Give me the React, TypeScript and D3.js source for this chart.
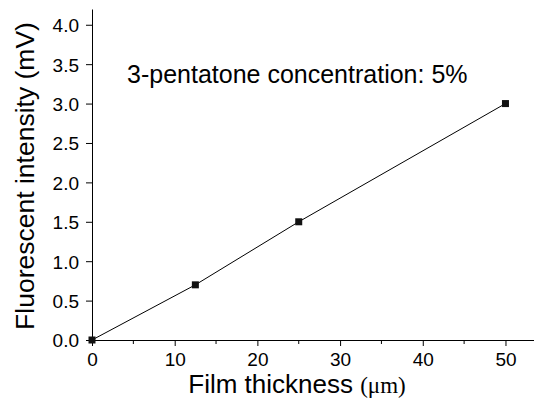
import React, { useEffect, useRef } from 'react';
import * as d3 from 'd3';

const thickness = [0, 12.5, 25, 50];
const intensity = [0, 0.7, 1.5, 3.0];
const xTicks = [0, 10, 20, 30, 40, 50];
const xMinor = [5, 15, 25, 35, 45];
const yTicks = [0, 0.5, 1, 1.5, 2, 2.5, 3, 3.5, 4];

const W = 534;
const H = 398;
const margin = { left: 92, right: 0, top: 9, bottom: 58 };

const App: React.FC = () => {
  const svgRef = useRef<SVGSVGElement | null>(null);

  useEffect(() => {
    const svg = d3.select(svgRef.current);
    svg.selectAll('*').remove();

    const x = d3.scaleLinear().domain([0, 53.45]).range([margin.left, W - margin.right]);
    const y = d3.scaleLinear().domain([0, 4.2]).range([H - margin.bottom, margin.top]);
    const font = 'Arial, "Liberation Sans", sans-serif';

    // x axis
    const xg = svg.append('g').attr('transform', `translate(0,${y(0)})`);
    xg.call(d3.axisBottom(x).tickValues(xTicks).tickSize(6).tickPadding(7).tickSizeOuter(0).tickFormat(d3.format('d')));
    xg.append('g').selectAll('line').data(xMinor).join('line')
      .attr('x1', d => x(d)).attr('x2', d => x(d)).attr('y1', 0).attr('y2', 4)
      .attr('stroke', '#000');
    xg.selectAll('text').attr('font-size', 19).attr('font-family', font);

    // y axis
    const yg = svg.append('g').attr('transform', `translate(${x(0)},0)`);
    yg.call(d3.axisLeft(y).tickValues(yTicks).tickSize(6).tickPadding(7).tickSizeOuter(0).tickFormat(d3.format('.1f')));
    yg.selectAll('text').attr('font-size', 19).attr('font-family', font).attr('dy', '0.36em');

    svg.selectAll('.domain').attr('stroke', '#000');
    svg.selectAll('.tick line').attr('stroke', '#000');

    const pts = thickness.map((t, i) => [t, intensity[i]] as [number, number]);

    svg.append('path')
      .datum(pts)
      .attr('fill', 'none')
      .attr('stroke', '#000')
      .attr('stroke-width', 1)
      .attr('d', d3.line<[number, number]>().x(d => x(d[0])).y(d => y(d[1])));

    svg.append('g').selectAll('rect').data(pts).join('rect')
      .attr('x', d => x(d[0]) - 3.5)
      .attr('y', d => y(d[1]) - 3.5)
      .attr('width', 7).attr('height', 7)
      .attr('fill', '#111');

    // annotation
    svg.append('text')
      .attr('x', 127).attr('y', 83)
      .attr('font-size', 25).attr('font-family', font)
      .text('3-pentatone concentration: 5%');

    // axis titles
    const xt = svg.append('text')
      .attr('x', 297).attr('y', 393)
      .attr('text-anchor', 'middle')
      .attr('font-size', 26).attr('font-family', font);
    xt.append('tspan').text('Film thickness ');
    xt.append('tspan').attr('font-size', 23).attr('font-family', '"Liberation Serif", "Times New Roman", serif').text('(μm)');

    svg.append('text')
      .attr('transform', `translate(34,176) rotate(-90)`)
      .attr('text-anchor', 'middle')
      .attr('font-size', 26.5).attr('font-family', font)
      .text('Fluorescent intensity (mV)');
  }, []);

  return (
    <div style={{ position: 'absolute', left: 0, top: 0 }}>
      <svg ref={svgRef} width={W} height={H} style={{ display: 'block', background: '#fff' }} />
    </div>
  );
};

export default App;
